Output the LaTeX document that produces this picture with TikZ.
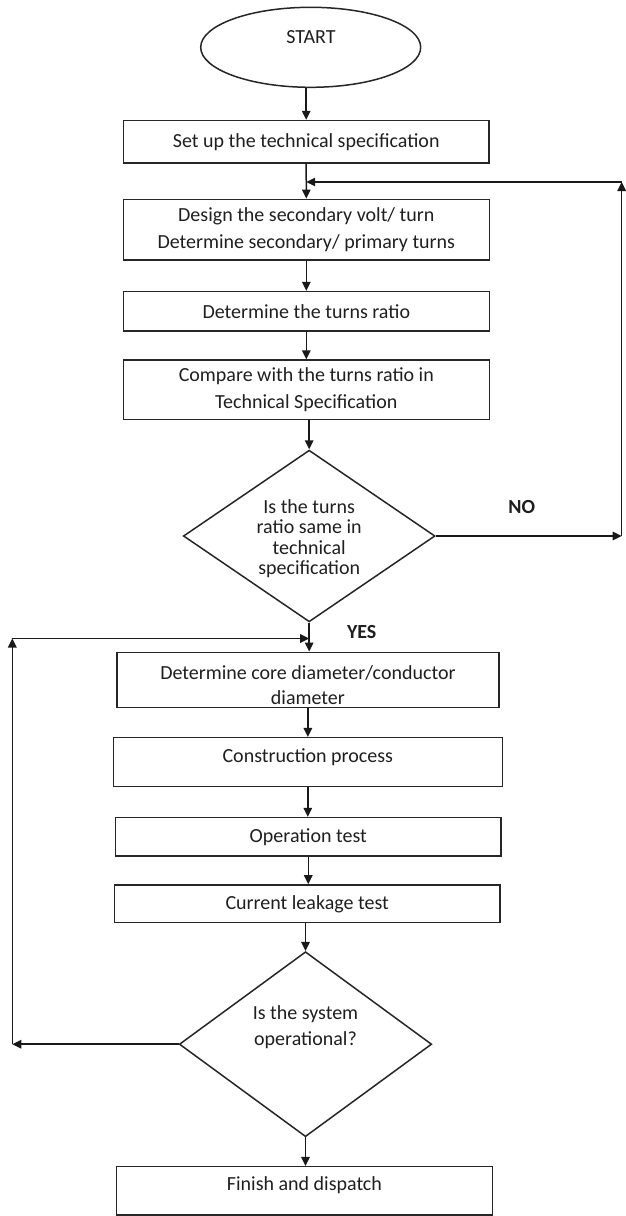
\documentclass[tikz,border=0pt]{standalone}
\usepackage{fontspec}
\setmainfont{Carlito}
\usetikzlibrary{shapes.geometric,arrows.meta}
\begin{document}
\begin{tikzpicture}[x=1pt,y=-1pt,
  every node/.style={font=\fontsize{20}{27}\selectfont, text=black!88},
  box/.style={draw=black!85, line width=1.5pt, rectangle, inner sep=0pt, align=center},
  dec/.style={draw=black!85, line width=1.5pt, diamond, inner sep=0pt},
  oval/.style={draw=black!85, line width=1.5pt, ellipse, inner sep=0pt},
  txt/.style={inner sep=0pt, align=center},
  arr/.style={draw=black!90, line width=1.5pt, -{Triangle[length=9pt,width=8.5pt]}},
  lbl/.style={inner sep=0pt, font=\fontsize{20}{24}\selectfont\bfseries}]
\useasboundingbox (0,0) rectangle (625,1216);

% shapes
\node[oval, minimum width=220pt, minimum height=80pt] (start) at (310.7,47.3) {};
\node[txt] (tstart) at (311,36.7) {START};

\node[box, minimum width=365.7pt, minimum height=42.3pt] (b1) at (306.2,141.8) {Set up the technical specification};
\node[box, minimum width=366pt, minimum height=60.7pt] (b2) at (306.3,229.7) {Design the secondary volt/ turn\\Determine secondary/ primary turns};
\node[box, minimum width=366pt, minimum height=39.3pt] (b3) at (306.3,311.3) {Determine the turns ratio};
\node[box, minimum width=366pt, minimum height=59.3pt] (b4) at (306.3,389.7) {Compare with the turns ratio in\\Technical Specification};

\node[dec, minimum width=251.7pt, minimum height=171.7pt] (d1) at (309.2,536) {};
\node[txt, font=\fontsize{20}{20.5}\selectfont] (td1) at (309.2,538.5) {Is the turns\\ratio same in\\technical\\specification};

\node[box, minimum width=382.3pt, minimum height=55.4pt] (b5) at (307.9,680) {};
\node[txt, font=\fontsize{20}{25}\selectfont] (tb5) at (307.9,685) {Determine core diameter/conductor\\diameter};
\node[box, minimum width=389pt, minimum height=49pt] (b6) at (307.8,762.2) {};
\node[txt] (tb6) at (307.8,756.7) {Construction process};
\node[box, minimum width=385.3pt, minimum height=38.3pt] (b7) at (308.3,836.8) {Operation test};
\node[box, minimum width=385.7pt, minimum height=37.7pt] (b8) at (307.2,903.8) {Current leakage test};

\node[dec, minimum width=252.4pt, minimum height=185pt] (d2) at (305.5,1044.2) {};
\node[txt, font=\fontsize{20}{26}\selectfont] (td2) at (305.5,1026.8) {Is the system\\operational?};

\node[box, minimum width=375.6pt, minimum height=48.3pt] (b9) at (304.5,1190.8) {};
\node[txt] (tb9) at (304.5,1185) {Finish and dispatch};

\node[lbl] (no) at (521.7,507.3) {NO};
\node[lbl] (yes) at (361.7,631.7) {YES};

% junction coordinates
\coordinate (nr) at (621.7,536);
\coordinate (nt) at (621.7,182);
\coordinate (j1) at (306.2,182);
\coordinate (lb) at (12.3,1044.2);
\coordinate (lt) at (12.3,638.5);
\coordinate (j2) at (309.2,638.5);

% connectors
\draw[arr] (start.south -| b1.north) -- (b1.north);
\draw[arr] (b1.south) -- (b2.north);
\draw[arr] (b2.south) -- (b3.north);
\draw[arr] (b3.south) -- (b4.north);
\draw[arr] (b4.south -| d1.north) -- (d1.north);
\draw[arr] (d1.south) -- (d1.south |- b5.north);
\draw[arr] (d1.east) -- (nr);
\draw[arr] (nr) -- (nt);
\draw[arr] (nt) -- (j1);
\draw[arr] (b5.south) -- (b5.south |- b6.north);
\draw[arr] (b6.south) -- (b6.south |- b7.north);
\draw[arr] (b7.south) -- (b7.south |- b8.north);
\draw[arr] (b8.south -| d2.north) -- (d2.north);
\draw[arr] (d2.south) -- (d2.south |- b9.north);
\draw[arr] (d2.west) -- (lb);
\draw[arr] (lb) -- (lt);
\draw[arr] (lt) -- (j2);
\end{tikzpicture}
\end{document}
